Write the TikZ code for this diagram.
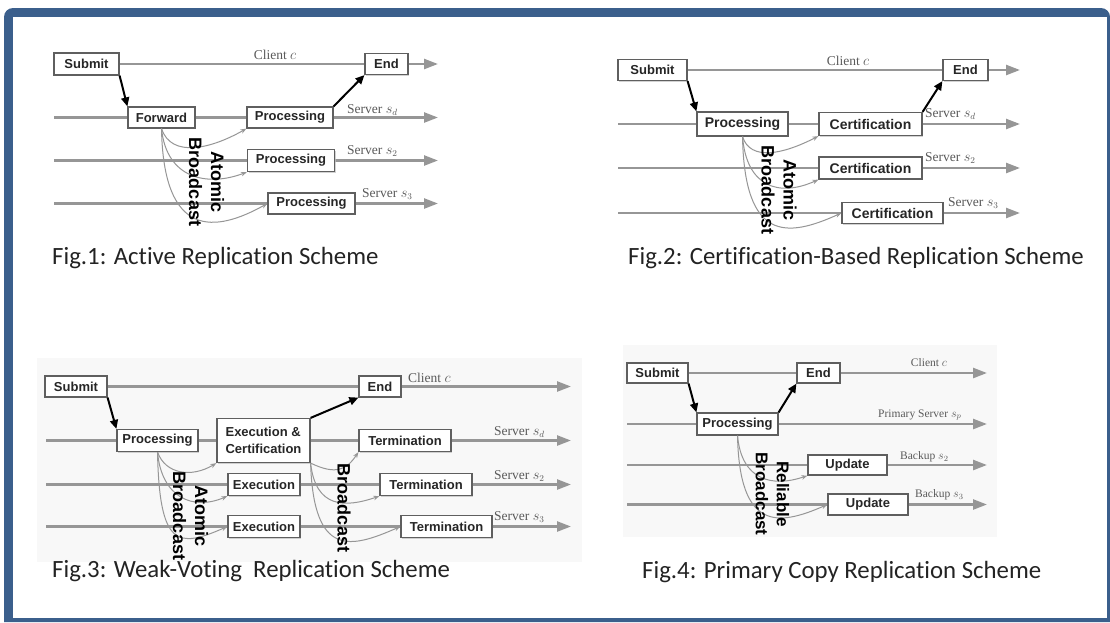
\documentclass[tikz,border=0pt]{standalone}
\usepackage{fontspec}
\setmainfont{Liberation Serif}
\newfontfamily\boxfont{Liberation Sans}
\newfontfamily\capfont[Ligatures=NoCommon]{Carlito}
\usetikzlibrary{arrows.meta,shadows}
\pgfdeclarelayer{back}
\pgfdeclarelayer{bg}
\pgfsetlayers{back,bg,main}
\definecolor{framecol}{RGB}{59,95,140}
\definecolor{lanecol}{RGB}{150,150,150}
\definecolor{boxcol}{RGB}{95,95,95}
\definecolor{labcol}{RGB}{90,90,90}
\definecolor{capcol}{RGB}{35,35,35}
\definecolor{scanbg}{RGB}{248,248,248}
\tikzset{
  box/.style={draw=boxcol, line width=1.2pt, fill=white, inner sep=0pt,
    font=\boxfont\bfseries\fontsize{13}{17}\selectfont, text=black!85,
    drop shadow={shadow xshift=1.3pt, shadow yshift=-1.3pt, fill=gray!50, opacity=0.7}},
  bigbox/.style={box, font=\boxfont\bfseries\fontsize{14}{17}\selectfont},
  lane/.style={draw=lanecol, line width=2.4pt, -{Triangle[length=14pt,width=10pt]}},
  msg/.style={draw=black, line width=2pt, -{Triangle[length=9pt,width=8pt]}},
  bc/.style={draw=lanecol, line width=1pt, -{Stealth[length=6pt,width=4.5pt]}},
  bctext/.style={font=\boxfont\bfseries\fontsize{18}{22}\selectfont, rotate=-90,
    align=center, inner sep=0pt, text=black},
  lab/.style={font=\fontsize{13.5}{15}\selectfont, text=labcol, inner sep=0pt, anchor=west},
  smalllab/.style={lab, font=\fontsize{11.5}{13}\selectfont},
  captext/.style={font=\capfont\fontsize{24.8}{28}\selectfont, text=capcol, anchor=base west, inner sep=0pt}
}
\begin{document}
\begin{tikzpicture}[x=1pt,y=-1pt]
\useasboundingbox (0,0) rectangle (1110,622);
\begin{pgfonlayer}{back}
% frame
\fill[white] (0,0) rectangle (1110,622);
\fill[framecol, rounded corners=9] (4,622) |- (1110,8) [sharp corners] -- (1110,622) -- cycle;
\fill[white] (13,17) rectangle (1106.5,617.5);
% faint scan backgrounds
\fill[scanbg] (37,358) rectangle (582,562);
\fill[scanbg] (623,345) rectangle (997,537);
\end{pgfonlayer}

%%%%%%%%%%%%%%%% Fig 1
\node[box, minimum width=65pt, minimum height=22pt] (s1) at (86.5,64) {Submit};
\node[box, minimum width=43pt, minimum height=21pt] (e1) at (386.5,64) {End};
\node[box, minimum width=67pt, minimum height=21pt] (f1) at (161.5,117.5) {Forward};
\node[box, minimum width=86pt, minimum height=21pt] (p1d) at (290,117.5) {Processing};
\node[box, minimum width=87pt, minimum height=22pt] (p12) at (291,160.5) {Processing};
\node[box, minimum width=87pt, minimum height=21pt] (p13) at (311.5,203.5) {Processing};
\coordinate (t1c) at (438,64);
\coordinate (l1d) at (54,117.5); \coordinate (t1d) at (438,117.5);
\coordinate (l12) at (54,160.5); \coordinate (t12) at (438,160.5);
\coordinate (l13) at (54,203.5); \coordinate (t13) at (438,203.5);
\node[lab, anchor=center] (c1) at (275,55) {Client $c$};
\node[lab] (sd1) at (347,110) {Server $s_d$};
\node[lab] (s21) at (347,151) {Server $s_2$};
\node[lab] (s31) at (362,194) {Server $s_3$};
\begin{pgfonlayer}{bg}
\draw[lane] (s1.east) -- (t1c);
\draw[lane] (l1d) -- (t1d);
\draw[lane] (l12) -- (t12);
\draw[lane] (l13) -- (t13);
\end{pgfonlayer}
\draw[bc] (f1.south) .. controls +(10,30) and +(-35,20) .. (p1d.south west);
\draw[bc] (f1.south) .. controls +(5,50) and +(-40,15) .. (p12.south west);
\draw[bc] (f1.south) .. controls +(2,111) and +(-52,29) .. (p13.west);
\node[bctext] (ab1) at (206.5,182) {Atomic\\Broadcast};
\draw[msg] (s1.south east) -- (f1.north west);
\draw[msg] (p1d.north east) -- (e1.south west);

%%%%%%%%%%%%%%%% Fig 2
\node[box, minimum width=69pt, minimum height=21pt] (s2) at (652.5,70) {Submit};
\node[box, minimum width=45pt, minimum height=21pt] (e2) at (965.5,70) {End};
\node[bigbox, minimum width=91pt, minimum height=24pt] (p2) at (742.5,124) {Processing};
\node[bigbox, minimum width=103pt, minimum height=23pt] (c2d) at (870.5,124) {Certification};
\node[bigbox, minimum width=103pt, minimum height=22pt] (c22) at (870.5,168) {Certification};
\node[bigbox, minimum width=101pt, minimum height=21pt] (c23) at (892.5,213) {Certification};
\coordinate (t2c) at (1020,70);
\coordinate (l2d) at (618,124); \coordinate (t2d) at (1020,124);
\coordinate (l22) at (618,168); \coordinate (t22) at (1020,168);
\coordinate (l23) at (618,213); \coordinate (t23) at (1020,213);
\node[lab, anchor=center] (c2) at (848,61) {Client $c$};
\node[lab] (sd2) at (925,114) {Server $s_d$};
\node[lab] (s22) at (925,158) {Server $s_2$};
\node[lab] (s32) at (948,203) {Server $s_3$};
\begin{pgfonlayer}{bg}
\draw[lane] (s2.east) -- (t2c);
\draw[lane] (l2d) -- (t2d);
\draw[lane] (l22) -- (t22);
\draw[lane] (l23) -- (t23);
\end{pgfonlayer}
\draw[bc] (p2.south) .. controls +(8,25) and +(-35,18) .. (c2d.south west);
\draw[bc] (p2.south) .. controls +(4,50) and +(-40,18) .. (c22.south west);
\draw[bc] (p2.south) .. controls +(2,105) and +(-55,25) .. (c23.west);
\node[bctext] (ab2) at (779,190) {Atomic\\Broadcast};
\draw[msg] (s2.south east) -- (p2.north west);
\draw[msg] (c2d.north east) -- (e2.south west);

%%%%%%%%%%%%%%%% Fig 3
\node[box, minimum width=62pt, minimum height=21pt] (s3) at (76,386.5) {Submit};
\node[box, minimum width=42pt, minimum height=21pt] (e3) at (380,386.5) {End};
\node[box, minimum width=81pt, minimum height=22pt] (p3) at (157.5,440.5) {Processing};
\node[box, minimum width=93pt, minimum height=44pt, align=left] (ec3) at (263.5,440.5) {Execution \&\\Certification};
\node[box, minimum width=92pt, minimum height=22pt] (t3d) at (405,440.5) {Termination};
\node[box, minimum width=72pt, minimum height=22pt] (x32) at (264,484.5) {Execution};
\node[box, minimum width=92pt, minimum height=22pt] (t32) at (426,484.5) {Termination};
\node[box, minimum width=72pt, minimum height=22pt] (x33) at (264,526.5) {Execution};
\node[box, minimum width=91pt, minimum height=22pt] (t33) at (446.5,526.5) {Termination};
\coordinate (t3c) at (571,386.5);
\coordinate (l3d) at (46,440.5); \coordinate (t3dd) at (571,440.5);
\coordinate (l32) at (46,484.5); \coordinate (t322) at (571,484.5);
\coordinate (l33) at (46,526.5); \coordinate (t333) at (571,526.5);
\node[lab] (c3) at (408,378) {Client $c$};
\node[lab] (sd3) at (494,432) {Server $s_d$};
\node[lab] (s23) at (494,476) {Server $s_2$};
\node[lab] (s33) at (494,517) {Server $s_3$};
\begin{pgfonlayer}{bg}
\draw[lane] (s3.east) -- (t3c);
\draw[lane] (l3d) -- (t3dd);
\draw[lane] (l32) -- (t322);
\draw[lane] (l33) -- (t333);
\end{pgfonlayer}
\draw[bc] (p3.south) .. controls +(8,22) and +(-25,15) .. (ec3.south west);
\draw[bc] (p3.south) .. controls +(4,45) and +(-35,15) .. (x32.south west);
\draw[bc] (p3.south) .. controls +(2,95) and +(-50,22) .. (x33.west);
\draw[bc] (ec3.south east) .. controls +(25,12) and +(-12,18) .. (t3d.south west);
\draw[bc] (ec3.south east) .. controls +(5,45) and +(-35,12) .. (t32.south west);
\draw[bc] (ec3.south east) .. controls +(3,95) and +(-50,22) .. (t33.west);
\node[bctext] (ab3) at (190.5,516) {Atomic\\Broadcast};
\node[bctext] (b3) at (344,508) {Broadcast};
\draw[msg] (s3.south east) -- (p3.north west);
\draw[msg] (ec3.north east) -- (e3.south west);

%%%%%%%%%%%%%%%% Fig 4
\node[box, minimum width=61pt, minimum height=20pt] (s4) at (657.5,373) {Submit};
\node[box, minimum width=43pt, minimum height=20pt] (e4) at (818.5,373) {End};
\node[box, minimum width=81pt, minimum height=22pt] (p4) at (737.5,424) {Processing};
\node[box, minimum width=79pt, minimum height=20pt] (u42) at (847.5,465) {Update};
\node[box, minimum width=80pt, minimum height=21pt] (u43) at (868,504.5) {Update};
\coordinate (t4c) at (987,373);
\coordinate (l4p) at (627,424); \coordinate (t4p) at (987,424);
\coordinate (l42) at (627,465); \coordinate (t42) at (987,465);
\coordinate (l43) at (627,504.5); \coordinate (t43) at (987,504.5);
\node[smalllab, anchor=center] (c4) at (929,363) {Client $c$};
\node[smalllab] (sp4) at (878,415) {Primary Server $s_p$};
\node[smalllab] (b24) at (900,457) {Backup $s_2$};
\node[smalllab] (b34) at (915,495) {Backup $s_3$};
\begin{pgfonlayer}{bg}
\draw[lane] (s4.east) -- (t4c);
\draw[lane] (l4p) -- (t4p);
\draw[lane] (l42) -- (t42);
\draw[lane] (l43) -- (t43);
\end{pgfonlayer}
\draw[bc] (p4.south) .. controls +(4,45) and +(-35,12) .. (u42.south west);
\draw[bc] (p4.south) .. controls +(2,95) and +(-50,22) .. (u43.west);
\node[bctext, font=\boxfont\bfseries\fontsize{17}{21}\selectfont] (rb4) at (772.5,494) {Reliable\\Broadcast};
\draw[msg] (s4.south east) -- (p4.north west);
\draw[msg] (p4.north east) -- (e4.south west);

%%%%%%%%%%%%%%%% captions
\node[captext] (cap1) at (52,264) {Fig.1: Active Replication Scheme};
\node[captext] (cap2) at (628,264) {Fig.2: Certification-Based Replication Scheme};
\node[captext] (cap3) at (52,577) {Fig.3: Weak-Voting\ \ Replication Scheme};
\node[captext] (cap4) at (642,578) {Fig.4: Primary Copy Replication Scheme};
\end{tikzpicture}
\end{document}
